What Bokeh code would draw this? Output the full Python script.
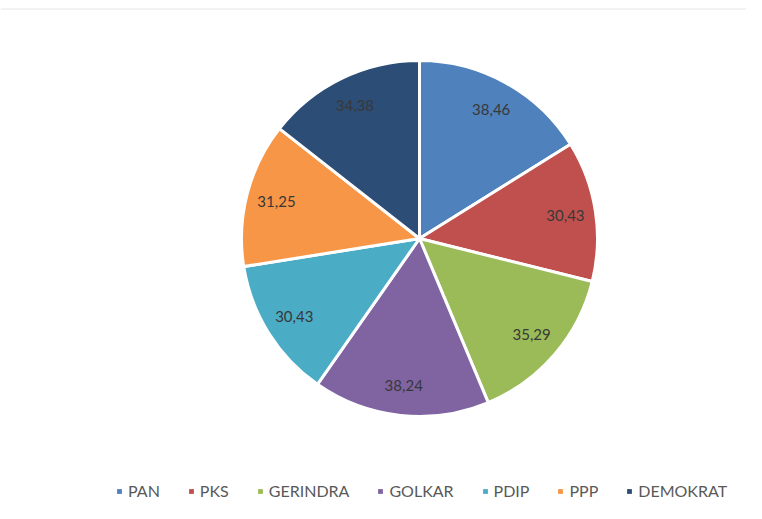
import numpy as np
from bokeh.plotting import figure
from bokeh.models import Range1d, ColumnDataSource, Legend, LegendItem, Span
from bokeh.core.properties import value
from bokeh.embed import file_html
from bokeh.resources import INLINE

parties = ["PAN", "PKS", "GERINDRA", "GOLKAR", "PDIP", "PPP", "DEMOKRAT"]
values = [38.46, 30.43, 35.29, 38.24, 30.43, 31.25, 34.38]
labels = ["38,46", "30,43", "35,29", "38,24", "30,43", "31,25", "34,38"]
colors = ["#4F81BD", "#C0504D", "#9BBB59", "#8064A2", "#4BACC6", "#F79646", "#2C4D75"]

W, H = 746, 503
p = figure(width=W, height=H, x_range=Range1d(0, W), y_range=Range1d(0, H),
           output_backend="svg", toolbar_location=None, min_border=0)
p.axis.visible = False
p.grid.visible = False
p.outline_line_color = None
p.background_fill_color = "white"

cx, cy, r = 419, 265, 178
vals = np.array(values)
frac = vals / vals.sum()
ends = np.cumsum(frac) * 2 * np.pi
starts = ends - frac * 2 * np.pi
sa = np.pi / 2 - starts
ea = np.pi / 2 - ends
mid = (sa + ea) / 2
lr = 0.83 * r
src = ColumnDataSource(dict(start=sa, end=ea, color=colors, party=parties,
                            lx=cx + lr * np.cos(mid), ly=cy + lr * np.sin(mid), lab=labels))

p.wedge(x=cx, y=cy, radius=r, start_angle="start", end_angle="end", direction="clock",
        fill_color="color", line_color="white", line_width=3, source=src)
p.text(x="lx", y="ly", text="lab", source=src, text_align="center", text_baseline="middle",
       text_font=value("Lato"), text_font_size="15px", text_color="#383838")

p.add_layout(Span(location=H - 8.5, dimension="width", line_color="#e6e6e6", line_width=1))

items = []
for party, c in zip(parties, colors):
    rr = p.quad(left=[-110], right=[-100], bottom=[-110], top=[-100],
                fill_color=c, line_color=None)
    items.append(LegendItem(label=party, renderers=[rr]))
legend = Legend(items=items, orientation="horizontal", location=(116, 3),
                border_line_color=None, background_fill_alpha=0,
                label_text_font="Lato", label_text_font_size="16px", label_text_color="#595959",
                glyph_width=6, glyph_height=6, label_height=6, label_standoff=6,
                spacing=28, padding=0, margin=0)
p.add_layout(legend, "center")

open("out.html", "w").write(file_html(p, INLINE))
